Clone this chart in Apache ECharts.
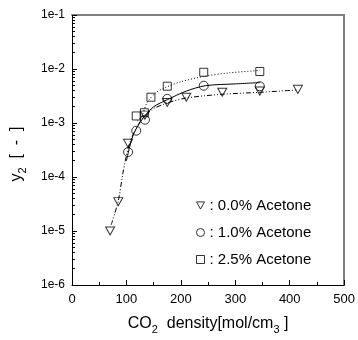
<!DOCTYPE html>
<html>
<head>
<meta charset="utf-8">
<script src="https://cdn.jsdelivr.net/npm/echarts@6/dist/echarts.min.js"></script>
<style>
  html, body { margin: 0; padding: 0; background: #fff; }
  #chart { width: 358px; height: 340px; }
</style>
</head>
<body>
<div id="chart"></div>
<script>
// measured points
const triX = [70, 85, 103, 134, 175, 210, 276, 345, 415]
const triY = [1.0e-5, 3.5e-5, 4.2e-4, 1.4e-3, 2.4e-3, 3.0e-3, 3.7e-3, 3.9e-3, 4.2e-3]
const cirX = [103, 118, 134, 175, 242, 345]
const cirY = [2.9e-4, 7.2e-4, 1.15e-3, 2.8e-3, 4.9e-3, 4.8e-3]
const sqX = [118, 133, 145, 175, 242, 345]
const sqY = [1.35e-3, 1.55e-3, 3.0e-3, 4.8e-3, 8.7e-3, 9.0e-3]

// fitted curves
const fit0X = [72, 85, 93, 100, 107, 115, 125, 135, 150, 175, 210, 275, 345, 415]
const fit0Y = [1.3e-5, 3.6e-5, 1.1e-4, 2.5e-4, 4.6e-4, 7.0e-4, 1.05e-3, 1.4e-3, 1.85e-3, 2.35e-3, 2.9e-3, 3.4e-3, 3.7e-3, 4.1e-3]
const fit1X = [100, 110, 120, 135, 150, 175, 210, 245, 300, 345]
const fit1Y = [2.0e-4, 5.1e-4, 8.5e-4, 1.4e-3, 2.0e-3, 2.7e-3, 3.9e-3, 4.9e-3, 5.3e-3, 5.6e-3]
const fit2X = [120, 129, 138, 155, 173, 200, 242, 290, 345]
const fit2Y = [1.1e-3, 1.4e-3, 2.4e-3, 3.7e-3, 4.6e-3, 5.8e-3, 7.3e-3, 8.5e-3, 9.4e-3]

const seriesNames = ['0.0% Acetone', '1.0% Acetone', '2.5% Acetone']
const yTickLabels = ['1e-6', '1e-5', '1e-4', '1e-3', '1e-2', '1e-1']

const FONT = 'Liberation Sans, Arial, sans-serif'
const TRI_DOWN = 'path://M0,0L10,0L5,9Z'

// minor tick positions for the log axis (decoration only, in log10 space)
const minorTicks = []
for (let d = -6; d < -1; d++) {
  for (let k = 2; k <= 9; k++) minorTicks.push(d + Math.log10(k))
}

function pairs(xs, ys) {
  return xs.map((x, i) => [x, ys[i]])
}

const markerStyle = { color: 'transparent', borderColor: '#000', borderWidth: 1 }

function scatter(name, xs, ys, symbol, size) {
  return {
    name,
    type: 'scatter',
    data: pairs(xs, ys),
    symbol,
    symbolSize: size,
    itemStyle: markerStyle,
    z: 3,
  }
}

function curve(xs, ys, dash) {
  return {
    type: 'line',
    data: pairs(xs, ys),
    showSymbol: false,
    smooth: 0.3,
    silent: true,
    lineStyle: { color: '#000', width: 1, type: dash },
    z: 2,
  }
}

const subRich = {
  t: { fontSize: 16, lineHeight: 22, color: '#000', fontFamily: FONT },
  s: { fontSize: 11, lineHeight: 10, verticalAlign: 'bottom', color: '#000', fontFamily: FONT },
}

const chart = echarts.init(document.getElementById('chart'))
chart.setOption({
  animation: false,
  textStyle: { fontFamily: FONT },
  grid: { left: 72, right: 11, top: 15, bottom: 52 },
  legend: {
    data: [
      { name: seriesNames[0], icon: TRI_DOWN },
      { name: seriesNames[1], icon: 'circle' },
      { name: seriesNames[2], icon: 'rect' },
    ],
    orient: 'vertical',
    left: 191,
    top: 193,
    itemWidth: 8,
    itemHeight: 8,
    itemGap: 12,
    formatter: ': {name}',
    itemStyle: { color: 'transparent', borderColor: '#000', borderWidth: 1 },
    textStyle: { fontSize: 15, color: '#000', fontFamily: FONT },
  },
  xAxis: [
    {
      type: 'value',
      min: 0,
      max: 500,
      interval: 100,
      splitLine: { show: false },
      axisLine: { lineStyle: { color: '#000', width: 1 } },
      axisTick: { inside: true, length: 5, lineStyle: { color: '#000' } },
      minorTick: { show: true, splitNumber: 2, length: 3, lineStyle: { color: '#000' } },
      axisLabel: { color: '#000', fontSize: 13, margin: 8, fontFamily: FONT },
      name: '{t|CO}{s|2}{t|  density[mol/cm}{s|3}{t| ]}',
      nameLocation: 'middle',
      nameGap: 28,
      nameTextStyle: { rich: subRich },
    },
    {
      type: 'value',
      position: 'top',
      min: 0,
      max: 500,
      axisLine: { show: true, lineStyle: { color: '#808080', width: 2 } },
      axisTick: { show: false },
      axisLabel: { show: false },
      splitLine: { show: false },
    },
  ],
  yAxis: [
    {
      type: 'log',
      logBase: 10,
      min: 1e-6,
      max: 1e-1,
      splitLine: { show: false },
      axisLine: { show: true, lineStyle: { color: '#000', width: 1 } },
      axisTick: { inside: true, length: 5, lineStyle: { color: '#000' } },
      axisLabel: {
        color: '#000',
        fontSize: 12,
        margin: 7,
        fontFamily: FONT,
        formatter: (v, i) => yTickLabels[i],
      },
      name: '{t|y}{s|2}{t|  [  -  ]}',
      nameLocation: 'middle',
      nameGap: 44,
      nameTextStyle: { padding: [0, 8, 0, 0], rich: subRich },
    },
    {
      // minor ticks of the log axis
      type: 'value',
      position: 'left',
      min: -6,
      max: -1,
      axisLine: { show: false },
      axisTick: { show: true, inside: true, length: 3, customValues: minorTicks, lineStyle: { color: '#000' } },
      axisLabel: { show: false },
      splitLine: { show: false },
    },
    {
      type: 'value',
      position: 'right',
      min: 0,
      max: 1,
      axisLine: { show: true, lineStyle: { color: '#808080', width: 2 } },
      axisTick: { show: false },
      axisLabel: { show: false },
      splitLine: { show: false },
    },
  ],
  series: [
    curve(fit0X, fit0Y, [5, 2, 1, 2, 1, 2]),
    curve(fit1X, fit1Y, 'solid'),
    curve(fit2X, fit2Y, [1, 2]),
    scatter(seriesNames[0], triX, triY, TRI_DOWN, [9, 8]),
    scatter(seriesNames[1], cirX, cirY, 'circle', 9),
    scatter(seriesNames[2], sqX, sqY, 'rect', 8),
  ],
})

window.addEventListener('resize', () => chart.resize())
</script>
</body>
</html>
